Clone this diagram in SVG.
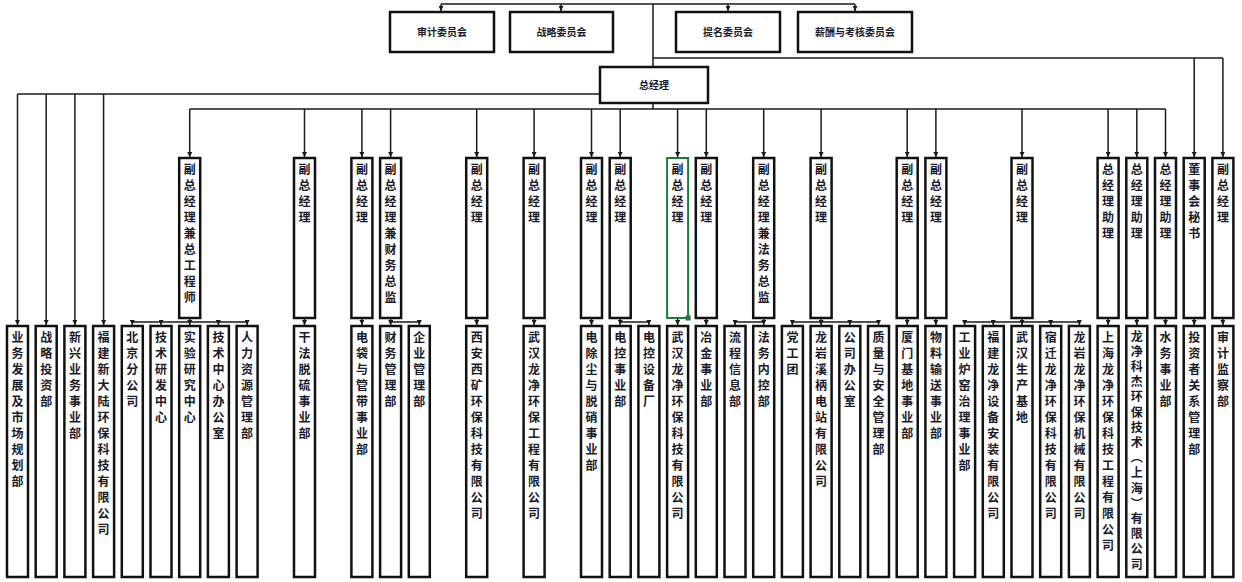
<svg xmlns="http://www.w3.org/2000/svg" width="1242" height="582" viewBox="0 0 1242 582">
<style>
.b{fill:#fff;stroke:#111;stroke-width:2.5}
.g{fill:#fff;stroke:#1e7a3a;stroke-width:2}
.c{fill:none;stroke:#1a1a1a;stroke-width:1.5}
.a{fill:none;stroke:#1a1a1a;stroke-width:1.5;marker-end:url(#ah)}
.t{font-family:"Noto Sans CJK SC","Noto Sans",sans-serif;font-weight:700;font-size:10px;fill:#1a1a2a;text-anchor:middle}
.v{font-family:"Noto Sans CJK SC","Noto Sans",sans-serif;font-weight:700;font-size:12px;fill:#1a1a2a;writing-mode:vertical-rl;letter-spacing:4px}
.vt{letter-spacing:3.2px}
</style>
<defs>
<marker id="ah" markerUnits="userSpaceOnUse" markerWidth="5" markerHeight="5" refX="5" refY="2.5" orient="auto"><path d="M0,0 L5,2.5 L0,5 z" fill="#1a1a1a"/></marker>
</defs>
<rect width="1242" height="582" fill="#fff"/>

<g id="connectors">
<path class="c" d="M441,4 H855 M653,4 V67"/>
<path class="a" d="M441,4 V11"/>
<path class="a" d="M561,4 V11"/>
<path class="a" d="M728,4 V11"/>
<path class="a" d="M855,4 V11"/>
<path class="c" d="M653,58 H1222.9"/>
<path class="a" d="M1222.9,58 V157"/>
<path class="a" d="M1194.2,58 V157"/>
<path class="c" d="M600,94 H17.5"/>
<path class="a" d="M17.5,94 V325"/>
<path class="a" d="M46.2,94 V325"/>
<path class="a" d="M74.9,94 V325"/>
<path class="a" d="M103.6,94 V325"/>
<path class="c" d="M653,103 V109 M189.7,109 H1165.5"/>
<path class="a" d="M189.7,109 V157"/>
<path class="a" d="M304.5,109 V157"/>
<path class="a" d="M361.9,109 V157"/>
<path class="a" d="M390.6,109 V157"/>
<path class="a" d="M476.7,109 V157"/>
<path class="a" d="M534.1,109 V157"/>
<path class="a" d="M591.5,109 V157"/>
<path class="a" d="M620.2,109 V157"/>
<path class="a" d="M677.6,109 V157"/>
<path class="a" d="M706.3,109 V157"/>
<path class="a" d="M763.7,109 V157"/>
<path class="a" d="M821.1,109 V157"/>
<path class="a" d="M907.2,109 V157"/>
<path class="a" d="M935.9,109 V157"/>
<path class="a" d="M1022,109 V157"/>
<path class="a" d="M1108.1,109 V157"/>
<path class="a" d="M1136.8,109 V157"/>
<path class="a" d="M1165.5,109 V157"/>
<path class="c" d="M132.3,322 H247.1 M390.6,322 H419.3 M620.2,322 H648.9 M735,322 H763.7 M792.4,322 H878.5 M964.6,322 H1079.4"/>
<path class="a" d="M189.7,319 V325"/>
<path class="a" d="M132.3,322 V325"/>
<path class="a" d="M161,322 V325"/>
<path class="a" d="M218.4,322 V325"/>
<path class="a" d="M247.1,322 V325"/>
<path class="a" d="M304.5,319 V325"/>
<path class="a" d="M361.9,319 V325"/>
<path class="a" d="M390.6,319 V325"/>
<path class="a" d="M419.3,322 V325"/>
<path class="a" d="M476.7,319 V325"/>
<path class="a" d="M534.1,319 V325"/>
<path class="a" d="M591.5,319 V325"/>
<path class="a" d="M620.2,319 V325"/>
<path class="a" d="M648.9,322 V325"/>
<path class="a" d="M677.6,319 V325"/>
<path class="a" d="M706.3,319 V325"/>
<path class="a" d="M735,322 V325"/>
<path class="a" d="M763.7,319 V325"/>
<path class="a" d="M792.4,322 V325"/>
<path class="a" d="M821.1,319 V325"/>
<path class="a" d="M849.8,322 V325"/>
<path class="a" d="M878.5,322 V325"/>
<path class="a" d="M907.2,319 V325"/>
<path class="a" d="M935.9,319 V325"/>
<path class="a" d="M964.6,322 V325"/>
<path class="a" d="M993.3,322 V325"/>
<path class="a" d="M1022,319 V325"/>
<path class="a" d="M1050.7,322 V325"/>
<path class="a" d="M1079.4,322 V325"/>
<path class="a" d="M1108.1,319 V325"/>
<path class="a" d="M1136.8,319 V325"/>
<path class="a" d="M1165.5,319 V325"/>
<path class="a" d="M1194.2,319 V325"/>
<path class="a" d="M1222.9,319 V325"/>
</g>

<g id="n-audit-comm"><rect class="b" x="390" y="12" width="104" height="40"/><text class="t" x="442" y="36">审计委员会</text></g>
<g id="n-strategy-comm"><rect class="b" x="510" y="12" width="103" height="40"/><text class="t" x="561.5" y="36">战略委员会</text></g>
<g id="n-nomination-comm"><rect class="b" x="676" y="12" width="104" height="40"/><text class="t" x="728" y="36">提名委员会</text></g>
<g id="n-pay-comm"><rect class="b" x="798" y="12" width="114" height="40"/><text class="t" x="855" y="36">薪酬与考核委员会</text></g>
<g id="n-gm"><rect class="b" x="600" y="67" width="108" height="36"/><text class="t" x="654" y="89">总经理</text></g>

<g id="u6"><rect class="b" x="179.2" y="158" width="21" height="160"/><text class="v" x="189.7" y="163">副总经理兼总工程师</text></g>
<g id="u10"><rect class="b" x="294" y="158" width="21" height="160"/><text class="v" x="304.5" y="163">副总经理</text></g>
<g id="u12"><rect class="b" x="351.4" y="158" width="21" height="160"/><text class="v" x="361.9" y="163">副总经理</text></g>
<g id="u13"><rect class="b" x="380.1" y="158" width="21" height="160"/><text class="v" x="390.6" y="163">副总经理兼财务总监</text></g>
<g id="u16"><rect class="b" x="466.2" y="158" width="21" height="160"/><text class="v" x="476.7" y="163">副总经理</text></g>
<g id="u18"><rect class="b" x="523.6" y="158" width="21" height="160"/><text class="v" x="534.1" y="163">副总经理</text></g>
<g id="u20"><rect class="b" x="581" y="158" width="21" height="160"/><text class="v" x="591.5" y="163">副总经理</text></g>
<g id="u21"><rect class="b" x="609.7" y="158" width="21" height="160"/><text class="v" x="620.2" y="163">副总经理</text></g>
<g id="u23"><rect class="g" x="667.1" y="158" width="21" height="160"/><rect x="685.6" y="315.5" width="5" height="5" fill="#1e7a3a"/><text class="v" x="677.6" y="163">副总经理</text></g>
<g id="u24"><rect class="b" x="695.8" y="158" width="21" height="160"/><text class="v" x="706.3" y="163">副总经理</text></g>
<g id="u26"><rect class="b" x="753.2" y="158" width="21" height="160"/><text class="v" x="763.7" y="163">副总经理兼法务总监</text></g>
<g id="u28"><rect class="b" x="810.6" y="158" width="21" height="160"/><text class="v" x="821.1" y="163">副总经理</text></g>
<g id="u31"><rect class="b" x="896.7" y="158" width="21" height="160"/><text class="v" x="907.2" y="163">副总经理</text></g>
<g id="u32"><rect class="b" x="925.4" y="158" width="21" height="160"/><text class="v" x="935.9" y="163">副总经理</text></g>
<g id="u35"><rect class="b" x="1011.5" y="158" width="21" height="160"/><text class="v" x="1022" y="163">副总经理</text></g>
<g id="u38"><rect class="b" x="1097.6" y="158" width="21" height="160"/><text class="v" x="1108.1" y="163">总经理助理</text></g>
<g id="u39"><rect class="b" x="1126.3" y="158" width="21" height="160"/><text class="v" x="1136.8" y="163">总经理助理</text></g>
<g id="u40"><rect class="b" x="1155" y="158" width="21" height="160"/><text class="v" x="1165.5" y="163">总经理助理</text></g>
<g id="u41"><rect class="b" x="1183.7" y="158" width="21" height="160"/><text class="v" x="1194.2" y="163">董事会秘书</text></g>
<g id="u42"><rect class="b" x="1212.4" y="158" width="21" height="160"/><text class="v" x="1222.9" y="163">副总经理</text></g>

<g id="d0"><rect class="b" x="7" y="326" width="21" height="251"/><text class="v" x="17.5" y="331">业务发展及市场规划部</text></g>
<g id="d1"><rect class="b" x="35.7" y="326" width="21" height="251"/><text class="v" x="46.2" y="331">战略投资部</text></g>
<g id="d2"><rect class="b" x="64.4" y="326" width="21" height="251"/><text class="v" x="74.9" y="331">新兴业务事业部</text></g>
<g id="d3"><rect class="b" x="93.1" y="326" width="21" height="251"/><text class="v" x="103.6" y="331">福建新大陆环保科技有限公司</text></g>
<g id="d4"><rect class="b" x="121.8" y="326" width="21" height="251"/><text class="v" x="132.3" y="331">北京分公司</text></g>
<g id="d5"><rect class="b" x="150.5" y="326" width="21" height="251"/><text class="v" x="161" y="331">技术研发中心</text></g>
<g id="d6"><rect class="b" x="179.2" y="326" width="21" height="251"/><text class="v" x="189.7" y="331">实验研究中心</text></g>
<g id="d7"><rect class="b" x="207.9" y="326" width="21" height="251"/><text class="v" x="218.4" y="331">技术中心办公室</text></g>
<g id="d8"><rect class="b" x="236.6" y="326" width="21" height="251"/><text class="v" x="247.1" y="331">人力资源管理部</text></g>
<g id="d10"><rect class="b" x="294" y="326" width="21" height="251"/><text class="v" x="304.5" y="331">干法脱硫事业部</text></g>
<g id="d12"><rect class="b" x="351.4" y="326" width="21" height="251"/><text class="v" x="361.9" y="331">电袋与管带事业部</text></g>
<g id="d13"><rect class="b" x="380.1" y="326" width="21" height="251"/><text class="v" x="390.6" y="331">财务管理部</text></g>
<g id="d14"><rect class="b" x="408.8" y="326" width="21" height="251"/><text class="v" x="419.3" y="331">企业管理部</text></g>
<g id="d16"><rect class="b" x="466.2" y="326" width="21" height="251"/><text class="v" x="476.7" y="331">西安西矿环保科技有限公司</text></g>
<g id="d18"><rect class="b" x="523.6" y="326" width="21" height="251"/><text class="v" x="534.1" y="331">武汉龙净环保工程有限公司</text></g>
<g id="d20"><rect class="b" x="581" y="326" width="21" height="251"/><text class="v" x="591.5" y="331">电除尘与脱硝事业部</text></g>
<g id="d21"><rect class="b" x="609.7" y="326" width="21" height="251"/><text class="v" x="620.2" y="331">电控事业部</text></g>
<g id="d22"><rect class="b" x="638.4" y="326" width="21" height="251"/><text class="v" x="648.9" y="331">电控设备厂</text></g>
<g id="d23"><rect class="b" x="667.1" y="326" width="21" height="251"/><text class="v" x="677.6" y="331">武汉龙净环保科技有限公司</text></g>
<g id="d24"><rect class="b" x="695.8" y="326" width="21" height="251"/><text class="v" x="706.3" y="331">冶金事业部</text></g>
<g id="d25"><rect class="b" x="724.5" y="326" width="21" height="251"/><text class="v" x="735" y="331">流程信息部</text></g>
<g id="d26"><rect class="b" x="753.2" y="326" width="21" height="251"/><text class="v" x="763.7" y="331">法务内控部</text></g>
<g id="d27"><rect class="b" x="781.9" y="326" width="21" height="251"/><text class="v" x="792.4" y="331">党工团</text></g>
<g id="d28"><rect class="b" x="810.6" y="326" width="21" height="251"/><text class="v" x="821.1" y="331">龙岩溪柄电站有限公司</text></g>
<g id="d29"><rect class="b" x="839.3" y="326" width="21" height="251"/><text class="v" x="849.8" y="331">公司办公室</text></g>
<g id="d30"><rect class="b" x="868" y="326" width="21" height="251"/><text class="v" x="878.5" y="331">质量与安全管理部</text></g>
<g id="d31"><rect class="b" x="896.7" y="326" width="21" height="251"/><text class="v" x="907.2" y="331">厦门基地事业部</text></g>
<g id="d32"><rect class="b" x="925.4" y="326" width="21" height="251"/><text class="v" x="935.9" y="331">物料输送事业部</text></g>
<g id="d33"><rect class="b" x="954.1" y="326" width="21" height="251"/><text class="v" x="964.6" y="331">工业炉窑治理事业部</text></g>
<g id="d34"><rect class="b" x="982.8" y="326" width="21" height="251"/><text class="v" x="993.3" y="331">福建龙净设备安装有限公司</text></g>
<g id="d35"><rect class="b" x="1011.5" y="326" width="21" height="251"/><text class="v" x="1022" y="331">武汉生产基地</text></g>
<g id="d36"><rect class="b" x="1040.2" y="326" width="21" height="251"/><text class="v" x="1050.7" y="331">宿迁龙净环保科技有限公司</text></g>
<g id="d37"><rect class="b" x="1068.9" y="326" width="21" height="251"/><text class="v" x="1079.4" y="331">龙岩龙净环保机械有限公司</text></g>
<g id="d38"><rect class="b" x="1097.6" y="326" width="21" height="251"/><text class="v" x="1108.1" y="331">上海龙净环保科技工程有限公司</text></g>
<g id="d39"><rect class="b" x="1126.3" y="326" width="21" height="251"/><text class="v vt" x="1136.8" y="330">龙净科杰环保技术（上海）有限公司</text></g>
<g id="d40"><rect class="b" x="1155" y="326" width="21" height="251"/><text class="v" x="1165.5" y="331">水务事业部</text></g>
<g id="d41"><rect class="b" x="1183.7" y="326" width="21" height="251"/><text class="v" x="1194.2" y="331">投资者关系管理部</text></g>
<g id="d42"><rect class="b" x="1212.4" y="326" width="21" height="251"/><text class="v" x="1222.9" y="331">审计监察部</text></g>
</svg>
